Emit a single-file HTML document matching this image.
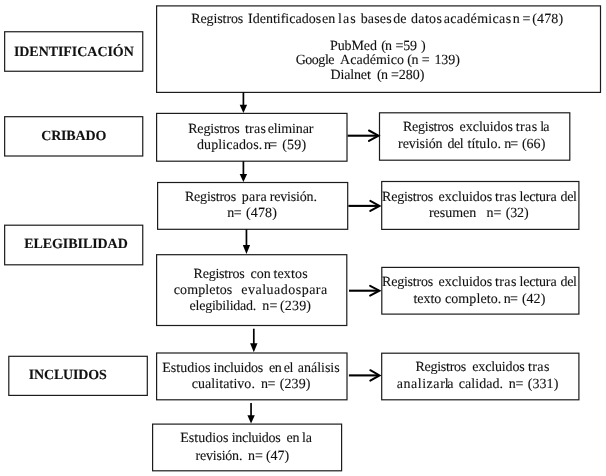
<!DOCTYPE html>
<html><head><meta charset="utf-8"><title>PRISMA</title>
<style>
html,body{margin:0;padding:0;background:#fff;}
svg{display:block;will-change:transform;}
text{text-rendering:geometricPrecision;font-family:"Liberation Serif",serif;font-size:14.0px;fill:#111;stroke:#111;stroke-width:0.1px;}
.b{font-weight:bold;}
</style></head><body>
<svg width="606" height="476" viewBox="0 0 606 476">
<rect width="606" height="476" fill="#fff"/>
<rect x="4.65" y="31.75" width="138.1" height="39.5" fill="#fff" stroke="#1c1c1c" stroke-width="1.2"/>
<rect x="4.65" y="116.7" width="138.1" height="39.3" fill="#fff" stroke="#1c1c1c" stroke-width="1.2"/>
<rect x="4.65" y="225.2" width="138.1" height="39.6" fill="#fff" stroke="#1c1c1c" stroke-width="1.2"/>
<rect x="8.8" y="356.3" width="138.5" height="39.1" fill="#fff" stroke="#1c1c1c" stroke-width="1.2"/>
<rect x="156.6" y="5.9" width="443.9" height="86.5" fill="#fff" stroke="#1c1c1c" stroke-width="1.2"/>
<rect x="156.6" y="113.4" width="190.4" height="47.8" fill="#fff" stroke="#1c1c1c" stroke-width="1.2"/>
<rect x="379.5" y="112.8" width="190.3" height="47.4" fill="#fff" stroke="#1c1c1c" stroke-width="1.2"/>
<rect x="157.6" y="182.5" width="190.1" height="46.8" fill="#fff" stroke="#1c1c1c" stroke-width="1.2"/>
<rect x="381.7" y="181.5" width="197.2" height="47.9" fill="#fff" stroke="#1c1c1c" stroke-width="1.2"/>
<rect x="156.6" y="254.7" width="190.2" height="70.8" fill="#fff" stroke="#1c1c1c" stroke-width="1.2"/>
<rect x="381.8" y="267.4" width="197.1" height="46.7" fill="#fff" stroke="#1c1c1c" stroke-width="1.2"/>
<rect x="156.6" y="353.0" width="190.4" height="46.8" fill="#fff" stroke="#1c1c1c" stroke-width="1.2"/>
<rect x="381.7" y="353.2" width="197.2" height="46.6" fill="#fff" stroke="#1c1c1c" stroke-width="1.2"/>
<rect x="152.6" y="424.1" width="189.0" height="46.7" fill="#fff" stroke="#1c1c1c" stroke-width="1.2"/>
<line x1="243.4" y1="92.4" x2="243.4" y2="105.8" stroke="#000" stroke-width="1.7"/>
<polygon points="239.7,104.8 247.1,104.8 243.4,113.0" fill="#000"/>
<line x1="243.4" y1="161.2" x2="243.4" y2="175.0" stroke="#000" stroke-width="1.7"/>
<polygon points="239.7,174.0 247.1,174.0 243.4,182.1" fill="#000"/>
<line x1="246.45" y1="229.3" x2="246.45" y2="246.0" stroke="#000" stroke-width="1.7"/>
<polygon points="242.8,245.0 250.1,245.0 246.45,253.9" fill="#000"/>
<line x1="253.8" y1="328.7" x2="253.8" y2="344.3" stroke="#000" stroke-width="1.7"/>
<polygon points="250.1,343.3 257.5,343.3 253.8,352.2" fill="#000"/>
<line x1="251.05" y1="402.9" x2="251.05" y2="416.3" stroke="#000" stroke-width="1.7"/>
<polygon points="247.4,415.3 254.8,415.3 251.05,423.6" fill="#000"/>
<line x1="347.6" y1="135.7" x2="378.0" y2="135.7" stroke="#000" stroke-width="2.1"/>
<polyline points="369.0,130.5 378.5,135.7 369.0,140.9" fill="none" stroke="#000" stroke-width="2.0" stroke-linejoin="miter" stroke-linecap="round"/>
<line x1="348.4" y1="205.9" x2="379.0" y2="205.9" stroke="#000" stroke-width="2.1"/>
<polyline points="370.3,200.9 379.5,205.9 370.3,210.9" fill="none" stroke="#000" stroke-width="2.0" stroke-linejoin="miter" stroke-linecap="round"/>
<line x1="349.0" y1="290.7" x2="378.9" y2="290.7" stroke="#000" stroke-width="2.1"/>
<polyline points="370.1,285.8 379.4,290.7 370.1,295.6" fill="none" stroke="#000" stroke-width="2.0" stroke-linejoin="miter" stroke-linecap="round"/>
<line x1="348.9" y1="375.4" x2="379.0" y2="375.4" stroke="#000" stroke-width="2.1"/>
<polyline points="370.3,370.2 379.5,375.4 370.3,380.6" fill="none" stroke="#000" stroke-width="2.0" stroke-linejoin="miter" stroke-linecap="round"/>
<text x="191.2" y="22.9" textLength="52.1" lengthAdjust="spacing">Registros</text>
<text x="248.1" y="22.9" textLength="73.0" lengthAdjust="spacing">Identificados</text>
<text x="322.1" y="22.9" textLength="13.2" lengthAdjust="spacing">en</text>
<text x="338.0" y="22.9" textLength="17.7" lengthAdjust="spacing">las</text>
<text x="360.7" y="22.9" textLength="31.0" lengthAdjust="spacing">bases</text>
<text x="393.3" y="22.9" textLength="13.2" lengthAdjust="spacing">de</text>
<text x="411.0" y="22.9" textLength="30.9" lengthAdjust="spacing">datos</text>
<text x="443.7" y="22.9" textLength="67.4" lengthAdjust="spacing">académicas</text>
<text x="512.8" y="22.9">n</text>
<text x="522.4" y="22.9">=</text>
<text x="532.2" y="22.9" textLength="30.9" lengthAdjust="spacing">(478)</text>
<text x="330.0" y="49.6" textLength="46.9" lengthAdjust="spacing">PubMed</text>
<text x="381.3" y="49.6" textLength="10.7" lengthAdjust="spacing">(n</text>
<text x="395.4" y="49.6" textLength="21.7" lengthAdjust="spacing">=59</text>
<text x="421.1" y="49.6">)</text>
<text x="295.7" y="64.4" textLength="38.8" lengthAdjust="spacing">Google</text>
<text x="340.1" y="64.4" textLength="63.8" lengthAdjust="spacing">Académico</text>
<text x="407.3" y="64.4" textLength="11.1" lengthAdjust="spacing">(n</text>
<text x="421.7" y="64.4">=</text>
<text x="434.4" y="64.4" textLength="25.5" lengthAdjust="spacing">139)</text>
<text x="330.6" y="79.2" textLength="40.2" lengthAdjust="spacing">Dialnet</text>
<text x="376.9" y="79.2" textLength="11.2" lengthAdjust="spacing">(n</text>
<text x="391.0" y="79.2" textLength="33.4" lengthAdjust="spacing">=280)</text>
<text x="188.2" y="132.6" textLength="51.5" lengthAdjust="spacing">Registros</text>
<text x="244.9" y="132.6" textLength="21.1" lengthAdjust="spacing">tras</text>
<text x="267.8" y="132.6" textLength="45.6" lengthAdjust="spacing">eliminar</text>
<text x="197.0" y="149.1" textLength="65.3" lengthAdjust="spacing">duplicados.</text>
<text x="264.0" y="149.1" textLength="13.1" lengthAdjust="spacing">n=</text>
<text x="282.2" y="149.1" textLength="23.9" lengthAdjust="spacing">(59)</text>
<text x="403.0" y="131.4" textLength="50.8" lengthAdjust="spacing">Registros</text>
<text x="459.6" y="131.4" textLength="53.3" lengthAdjust="spacing">excluidos</text>
<text x="515.8" y="131.4" textLength="21.3" lengthAdjust="spacing">tras</text>
<text x="540.2" y="131.4" textLength="9.3" lengthAdjust="spacing">la</text>
<text x="398.1" y="147.7" textLength="44.5" lengthAdjust="spacing">revisión</text>
<text x="447.5" y="147.7" textLength="16.2" lengthAdjust="spacing">del</text>
<text x="467.4" y="147.7" textLength="33.6" lengthAdjust="spacing">título.</text>
<text x="504.3" y="147.7" textLength="13.8" lengthAdjust="spacing">n=</text>
<text x="521.9" y="147.7" textLength="23.4" lengthAdjust="spacing">(66)</text>
<text x="185.0" y="201.2" textLength="51.1" lengthAdjust="spacing">Registros</text>
<text x="241.7" y="201.2" textLength="24.9" lengthAdjust="spacing">para</text>
<text x="269.7" y="201.2" textLength="47.2" lengthAdjust="spacing">revisión.</text>
<text x="227.2" y="217.1" textLength="14.4" lengthAdjust="spacing">n=</text>
<text x="245.9" y="217.1" textLength="31.0" lengthAdjust="spacing">(478)</text>
<text x="382.1" y="201.2" textLength="51.0" lengthAdjust="spacing">Registros</text>
<text x="438.5" y="201.2" textLength="53.8" lengthAdjust="spacing">excluidos</text>
<text x="495.1" y="201.2" textLength="21.3" lengthAdjust="spacing">tras</text>
<text x="519.4" y="201.2" textLength="37.2" lengthAdjust="spacing">lectura</text>
<text x="560.5" y="201.2" textLength="16.4" lengthAdjust="spacing">del</text>
<text x="428.9" y="217.1" textLength="47.3" lengthAdjust="spacing">resumen</text>
<text x="486.6" y="217.1" textLength="14.7" lengthAdjust="spacing">n=</text>
<text x="505.7" y="217.1" textLength="22.9" lengthAdjust="spacing">(32)</text>
<text x="193.5" y="277.8" textLength="51.2" lengthAdjust="spacing">Registros</text>
<text x="250.5" y="277.8" textLength="20.2" lengthAdjust="spacing">con</text>
<text x="273.4" y="277.8" textLength="34.3" lengthAdjust="spacing">textos</text>
<text x="173.7" y="294.3" textLength="58.6" lengthAdjust="spacing">completos</text>
<text x="241.3" y="294.3" textLength="59.8" lengthAdjust="spacing">evaluados</text>
<text x="301.7" y="294.3" textLength="25.4" lengthAdjust="spacing">para</text>
<text x="189.5" y="310.2" textLength="66.8" lengthAdjust="spacing">elegibilidad.</text>
<text x="262.3" y="310.2" textLength="15.1" lengthAdjust="spacing">n=</text>
<text x="280.0" y="310.2" textLength="31.0" lengthAdjust="spacing">(239)</text>
<text x="382.1" y="286.2" textLength="51.0" lengthAdjust="spacing">Registros</text>
<text x="438.5" y="286.2" textLength="53.8" lengthAdjust="spacing">excluidos</text>
<text x="495.1" y="286.2" textLength="21.3" lengthAdjust="spacing">tras</text>
<text x="519.4" y="286.2" textLength="37.2" lengthAdjust="spacing">lectura</text>
<text x="560.5" y="286.2" textLength="16.4" lengthAdjust="spacing">del</text>
<text x="413.4" y="302.6" textLength="27.9" lengthAdjust="spacing">texto</text>
<text x="444.9" y="302.6" textLength="56.4" lengthAdjust="spacing">completo.</text>
<text x="503.8" y="302.6" textLength="14.2" lengthAdjust="spacing">n=</text>
<text x="521.9" y="302.6" textLength="23.4" lengthAdjust="spacing">(42)</text>
<text x="162.3" y="372.1" textLength="48.2" lengthAdjust="spacing">Estudios</text>
<text x="213.6" y="372.1" textLength="49.6" lengthAdjust="spacing">incluidos</text>
<text x="268.9" y="372.1" textLength="12.9" lengthAdjust="spacing">en</text>
<text x="283.8" y="372.1" textLength="9.5" lengthAdjust="spacing">el</text>
<text x="297.7" y="372.1" textLength="42.0" lengthAdjust="spacing">análisis</text>
<text x="191.8" y="388.3" textLength="63.1" lengthAdjust="spacing">cualitativo.</text>
<text x="260.9" y="388.3" textLength="14.6" lengthAdjust="spacing">n=</text>
<text x="279.7" y="388.3" textLength="30.8" lengthAdjust="spacing">(239)</text>
<text x="415.4" y="371.1" textLength="50.9" lengthAdjust="spacing">Registros</text>
<text x="472.2" y="371.1" textLength="52.6" lengthAdjust="spacing">excluidos</text>
<text x="528.0" y="371.1" textLength="21.4" lengthAdjust="spacing">tras</text>
<text x="396.7" y="388.3" textLength="48.1" lengthAdjust="spacing">analizar</text>
<text x="444.7" y="388.3" textLength="8.8" lengthAdjust="spacing">la</text>
<text x="458.7" y="388.3" textLength="44.3" lengthAdjust="spacing">calidad.</text>
<text x="508.8" y="388.3" textLength="14.6" lengthAdjust="spacing">n=</text>
<text x="527.7" y="388.3" textLength="30.6" lengthAdjust="spacing">(331)</text>
<text x="180.2" y="442.2" textLength="48.3" lengthAdjust="spacing">Estudios</text>
<text x="231.7" y="442.2" textLength="49.0" lengthAdjust="spacing">incluidos</text>
<text x="286.6" y="442.2" textLength="12.9" lengthAdjust="spacing">en</text>
<text x="302.0" y="442.2" textLength="9.9" lengthAdjust="spacing">la</text>
<text x="195.5" y="460.0" textLength="46.9" lengthAdjust="spacing">revisión.</text>
<text x="248.1" y="460.0" textLength="14.7" lengthAdjust="spacing">n=</text>
<text x="266.0" y="460.0" textLength="23.2" lengthAdjust="spacing">(47)</text>
<text class="b" x="13.9" y="56.3" textLength="119.9" lengthAdjust="spacing">IDENTIFICACIÓN</text>
<text class="b" x="41.2" y="139.9" textLength="65.1" lengthAdjust="spacing">CRIBADO</text>
<text class="b" x="24.2" y="247.8" textLength="103.6" lengthAdjust="spacing">ELEGIBILIDAD</text>
<text class="b" x="28.7" y="378.7" textLength="78.1" lengthAdjust="spacing">INCLUIDOS</text>
</svg>
</body></html>
